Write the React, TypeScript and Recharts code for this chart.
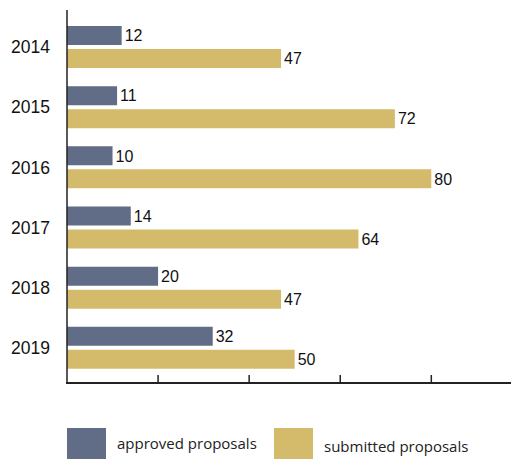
import { BarChart, Bar, XAxis, YAxis, LabelList } from 'recharts'

const years = ['2014', '2015', '2016', '2017', '2018', '2019']
const approved = [12, 11, 10, 14, 20, 32]
const submitted = [47, 72, 80, 64, 47, 50]
const xTicks = [20, 40, 60, 80]

const APPROVED_COLOR = '#616c86'
const SUBMITTED_COLOR = '#d4bb6b'
const AXIS_COLOR = '#222'

const data = years.map((year, i) => ({
  year,
  approved: approved[i],
  submitted: submitted[i],
}))

const labelStyle = {
  fontSize: 16,
  fill: '#111',
  fontFamily: '"Liberation Sans", Arial, sans-serif',
}

function LegendItem({ color, text, left, textTop }: { color: string; text: string; left: number; textTop: number }) {
  return (
    <>
      <div style={{ position: 'absolute', left, top: 428, width: 39, height: 31, background: color }} />
      <div
        style={{
          position: 'absolute',
          left: left + 50,
          top: textTop,
          fontSize: 15,
          fontFamily: '"Open Sans", "Noto Sans", sans-serif',
          color: '#222',
          whiteSpace: 'nowrap',
        }}
      >
        {text}
      </div>
    </>
  )
}

export default function App() {
  return (
    <div
      style={{
        position: 'absolute',
        left: 0,
        top: 0,
        width: 511,
        height: 459,
        overflow: 'hidden',
        background: '#fff',
      }}
    >
      <BarChart
        width={511}
        height={400}
        data={data}
        layout="vertical"
        margin={{ top: 10, right: 0, bottom: 0, left: 0 }}
        barSize={19}
        barGap={4}
      >
        <XAxis
          type="number"
          domain={[0, 97.5]}
          ticks={xTicks}
          height={17}
          axisLine={false}
          tickLine={{ stroke: AXIS_COLOR, strokeWidth: 1.5 }}
          tickSize={-8}
          tick={() => <g />}
        />
        <YAxis
          type="category"
          dataKey="year"
          width={67}
          padding={{ top: 7, bottom: 5 }}
          axisLine={{ stroke: AXIS_COLOR, strokeWidth: 1.5 }}
          tickLine={false}
          tickMargin={11}
          tick={{ ...labelStyle, fontSize: 17.5 }}
        />
        <Bar dataKey="approved" fill={APPROVED_COLOR} isAnimationActive={false}>
          <LabelList dataKey="approved" position="right" offset={3} style={labelStyle} />
        </Bar>
        <Bar dataKey="submitted" fill={SUBMITTED_COLOR} isAnimationActive={false}>
          <LabelList dataKey="submitted" position="right" offset={3} style={labelStyle} />
        </Bar>
      </BarChart>
      {/* bottom axis line runs to the right edge */}
      <div style={{ position: 'absolute', left: 66.25, top: 382.25, width: 445, height: 1.5, background: AXIS_COLOR }} />
      <LegendItem color={APPROVED_COLOR} text="approved proposals" left={67} textTop={433} />
      <LegendItem color={SUBMITTED_COLOR} text="submitted proposals" left={274} textTop={436} />
    </div>
  )
}
